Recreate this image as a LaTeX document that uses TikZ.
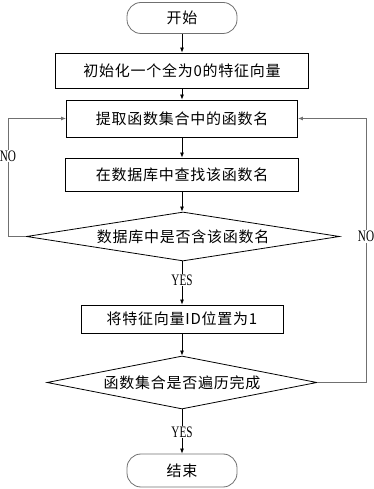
\documentclass[tikz,border=0pt]{standalone}
\usepackage{fontspec}
\setmainfont[LetterSpace=5]{Noto Sans CJK SC}
\newfontfamily\latinfont[FakeStretch=0.7]{Liberation Serif}
\usepackage{tikz}
\usetikzlibrary{arrows.meta,shapes.geometric}
\definecolor{loopgray}{HTML}{707070}

\begin{document}
\begin{tikzpicture}[
  x=1pt, y=1pt,
  every node/.style={font=\fontsize{15}{17}\selectfont},
  terminal/.style={draw=loopgray, line width=0.8pt, rounded corners=14pt,
    minimum width=110pt, minimum height=31pt, inner sep=0pt},
  process/.style={draw, line width=0.8pt, minimum height=34pt, inner sep=0pt},
  decision/.style={draw, line width=0.8pt, diamond, inner sep=0pt},
  flow/.style={line width=0.8pt, -{Latex[length=5pt,width=4pt]}},
  loopback/.style={loopgray, line width=0.9pt, -{Latex[length=5pt,width=4pt]}},
  branch/.style={fill=white, inner sep=1pt, font=\latinfont\fontsize{16}{18}\selectfont},
]
\useasboundingbox (0,0) rectangle (373,489);

% Start / end
\node[terminal] (start) at (182, 471) {开始};
\node[terminal, minimum height=33pt] (finish) at (182, 18.5) {结束};

% Process boxes
\node[process, minimum width=253pt, minimum height=35pt] (init) at (182, 418.5) {初始化一个全为0的特征向量};
\node[process, minimum width=231pt, minimum height=37pt] (extract) at (182, 370.5) {提取函数集合中的函数名};
\node[process, minimum width=233pt, minimum height=33pt] (search) at (182, 314.5) {在数据库中查找该函数名};
\node[process, minimum width=202pt, minimum height=28pt] (mark) at (182, 170) {将特征向量ID位置为1};

% Decisions
\node[decision, aspect=6.4, minimum width=313pt, minimum height=49pt] (check) at (183, 252.5) {数据库中是否含该函数名};
\node[decision, aspect=5.1, minimum width=270pt, minimum height=53pt] (done) at (182, 106.5) {函数集合是否遍历完成};

% Main flow
\draw[flow] (start) -- (init);
\draw[flow] (init) -- (extract);
\draw[flow] (extract) -- (search);
\draw[flow] (search.south) -- (search.south |- check.north);
\draw[flow] (check.south -| mark.north) -- (mark.north);
\draw[flow] (mark) -- (done);
\draw[flow] (done.south -| finish.north) -- (finish.north);

% Loop-back lines
\coordinate (lft) at (8, 0);
\coordinate (rgt) at (366, 0);
\draw[loopback] (check.west) -- (check.west -| lft) |- (extract.west);
\draw[loopback] (done.east) -- (done.east -| rgt) |- (extract.east);

% Branch labels
\node[branch] (nol) at (8, 333) {NO};
\node[branch] (nor) at (rgt |- check.east) {NO};
\node[branch] (yes1) at (182, 209) {YES};
\node[branch] (yes2) at (182, 57) {YES};

\end{tikzpicture}
\end{document}
